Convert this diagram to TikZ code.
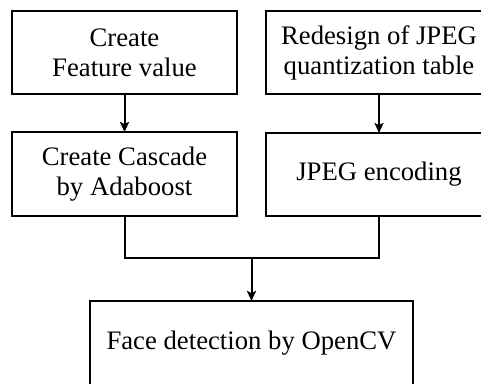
\documentclass[tikz,border=0pt]{standalone}
\usepackage{fontspec}
\setmainfont{Liberation Serif}
\usetikzlibrary{arrows.meta}
\begin{document}
\begin{tikzpicture}[x=1pt,y=-1pt,
  stepbox/.style={draw=black,line width=2pt,fill=white,inner sep=0pt,outer sep=0pt,
    align=center,font=\fontsize{26.7}{30}\selectfont},
  link/.style={draw=black,line width=2pt},
  flow/.style={link,-{Stealth[length=10pt,width=9pt,inset=2pt]}}]
  \useasboundingbox (0,0) rectangle (481,383);
  \clip (0,0) rectangle (481,383);
  \fill[white] (0,0) rectangle (481,383);

  % upper row
  \node[stepbox,minimum width=225pt,minimum height=83pt] (feat) at (124.5,52.5)
    {Create\\Feature value};
  \node[stepbox,minimum width=226pt,minimum height=83pt] (quant) at (379,52.5)
    {Redesign of JPEG\\quantization table};

  % middle row
  \node[stepbox,minimum width=225pt,minimum height=84pt] (casc) at (124.5,174)
    {Create Cascade\\by Adaboost};
  \node[stepbox,minimum width=226pt,minimum height=83pt] (enc) at (379,174.5)
    {JPEG encoding};

  % final step
  \node[stepbox,minimum width=323pt,minimum height=84pt] (face) at (251.5,343)
    {Face detection by OpenCV};

  % connectors
  \draw[flow] (feat.south) -- (casc.north);
  \draw[flow] (quant.south) -- (enc.north);
  \coordinate (join) at (251.5,258);
  \draw[link] (casc.south) |- (join) -| (enc.south);
  \draw[flow] (join) -- (face.north);
\end{tikzpicture}
\end{document}
